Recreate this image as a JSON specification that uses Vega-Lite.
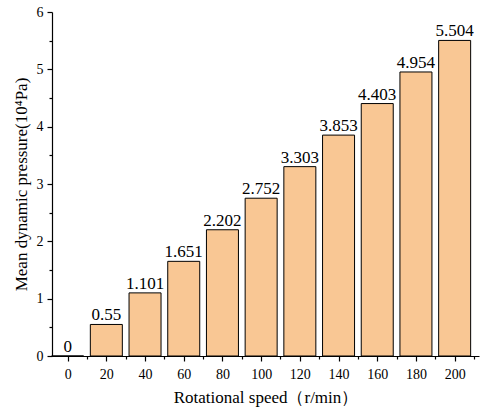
{
  "$schema": "https://vega.github.io/schema/vega-lite/v6.json",
  "width": 427,
  "height": 344,
  "autosize": "none",
  "padding": {"left": 52, "top": 12, "right": 1, "bottom": 59},
  "background": "white",
  "config": {
    "view": {"stroke": null},
    "font": "'Liberation Serif', 'Times New Roman', serif",
    "text": {"font": "'Liberation Serif', 'Times New Roman', serif"},
    "axis": {
      "grid": false,
      "domainColor": "black",
      "domainWidth": 1.2,
      "tickColor": "black",
      "tickWidth": 1.2,
      "labelFont": "'Liberation Serif', 'Times New Roman', serif",
      "titleFont": "'Liberation Serif', 'Times New Roman', serif",
      "labelColor": "black",
      "labelFontSize": 14,
      "labelFlush": false,
      "labelOverlap": false,
      "titleColor": "black",
      "titleFontSize": 17,
      "titleFontWeight": "normal"
    }
  },
  "data": {
    "values": [
      {"speed": 0, "pressure": 0},
      {"speed": 20, "pressure": 0.55},
      {"speed": 40, "pressure": 1.101},
      {"speed": 60, "pressure": 1.651},
      {"speed": 80, "pressure": 2.202},
      {"speed": 100, "pressure": 2.752},
      {"speed": 120, "pressure": 3.303},
      {"speed": 140, "pressure": 3.853},
      {"speed": 160, "pressure": 4.403},
      {"speed": 180, "pressure": 4.954},
      {"speed": 200, "pressure": 5.504}
    ]
  },
  "encoding": {
    "x": {
      "field": "speed",
      "type": "quantitative",
      "scale": {"domain": [-5.5, 210], "nice": false, "zero": false},
      "axis": {
        "title": "Rotational speed（r/min）",
        "values": [0, 10, 20, 30, 40, 50, 60, 70, 80, 90, 100, 110, 120, 130, 140, 150, 160, 170, 180, 190, 200, 210],
        "format": "d",
        "labelExpr": "datum.value % 20 == 0 ? datum.label : ''",
        "tickSize": {"condition": {"test": "datum.value % 20 != 0", "value": 3}, "value": 5},
        "labelPadding": 6,
        "titlePadding": 8
      }
    },
    "y": {
      "field": "pressure",
      "type": "quantitative",
      "scale": {"domain": [0, 6], "nice": false},
      "axis": {
        "title": "Mean dynamic pressure(10⁴Pa)",
        "values": [0, 0.5, 1, 1.5, 2, 2.5, 3, 3.5, 4, 4.5, 5, 5.5, 6],
        "format": "~g",
        "labelExpr": "datum.value % 1 == 0 ? datum.label : ''",
        "tickSize": {"condition": {"test": "datum.value % 1 != 0", "value": 3}, "value": 5},
        "labelPadding": 4,
        "titlePadding": 6
      }
    }
  },
  "layer": [
    {
      "mark": {"type": "bar", "size": 32, "fill": "#F9C794", "stroke": "black", "strokeWidth": 1}
    },
    {
      "mark": {"type": "text", "baseline": "alphabetic", "dy": -4, "fontSize": 17, "color": "black", "font": "'Liberation Serif', 'Times New Roman', serif"},
      "encoding": {"text": {"field": "pressure", "type": "nominal"}}
    }
  ]
}
